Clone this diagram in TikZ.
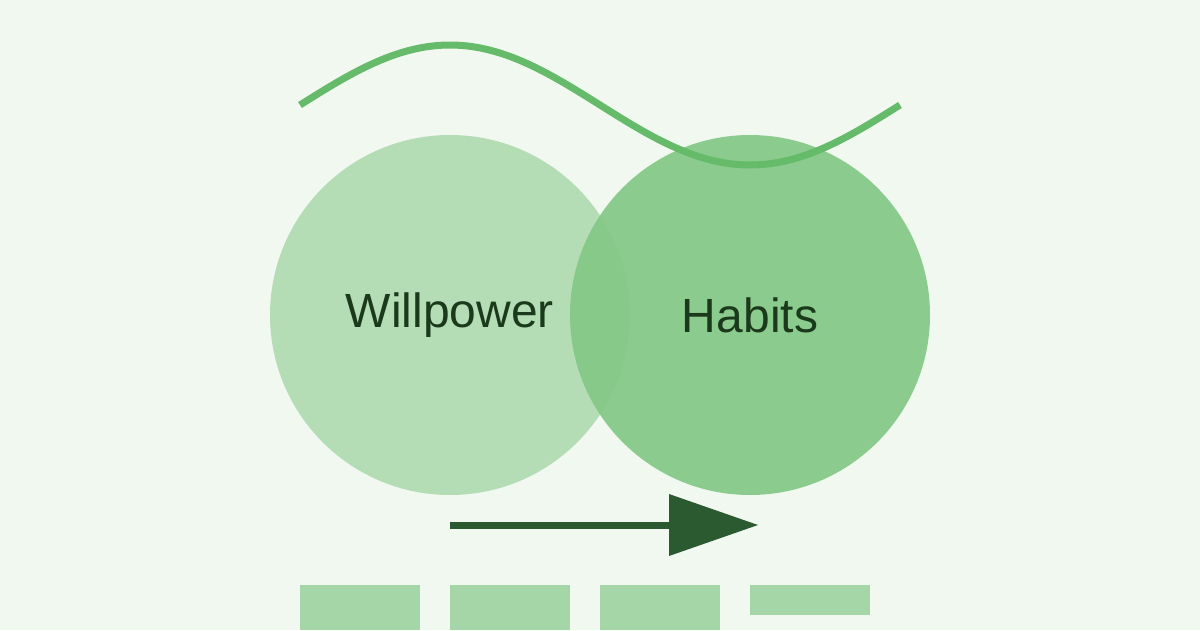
\documentclass[tikz,border=0pt]{standalone}
\usepackage{fontspec}
\setmainfont{Liberation Sans}
\definecolor{bg}{HTML}{F0F8F0}
\definecolor{lc}{HTML}{B5DDB5}
\definecolor{rc}{HTML}{81C784}
\definecolor{wave}{HTML}{66BB6A}
\definecolor{dark}{HTML}{2C5A30}
\definecolor{bar}{HTML}{A5D6A7}
\definecolor{txt}{HTML}{1B3A1B}
\begin{document}
\begin{tikzpicture}[x=1pt,y=-1pt,
  lbl/.style={text=txt,font=\fontsize{48}{48}\selectfont},
  barbox/.style={fill=bar,draw=none}]
\fill[bg] (0,0) rectangle (1200,630);
\useasboundingbox (0,0) rectangle (1200,630);
\fill[lc] (450,315) circle (180);
\fill[rc,opacity=0.9] (750,315) circle (180);
\draw[wave,line width=7] plot[domain=300:900,samples=120] (\x,{105-60*sin((\x-300)*0.6)});
\node[lbl] (w) at (450,315) {Willpower};
\node[lbl] (h) at (750,315) {Habits};
\coordinate (a1) at (450,525);
\coordinate (a2) at (672,525);
\draw[dark,line width=7] (a1) -- (a2);
\fill[dark] (669,494) -- (758,525) -- (669,556) -- cycle;
\fill[barbox] (300,585) rectangle (420,630);
\fill[barbox] (450,585) rectangle (570,630);
\fill[barbox] (600,585) rectangle (720,630);
\fill[barbox] (750,585) rectangle (870,615);
\end{tikzpicture}
\end{document}
